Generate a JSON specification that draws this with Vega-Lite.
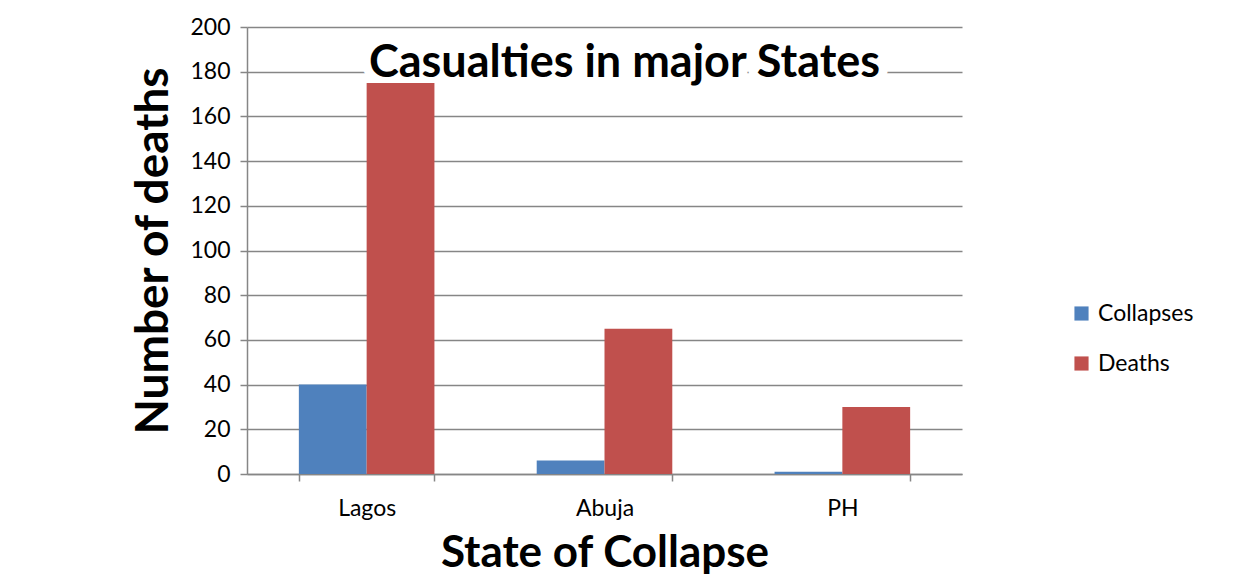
{
  "$schema": "https://vega.github.io/schema/vega-lite/v6.json",
  "autosize": {"type": "none"},
  "padding": {"left": 247, "top": 27, "right": 276, "bottom": 104},
  "width": 715,
  "height": 447,
  "background": "white",
  "config": {
    "view": {"stroke": null},
    "font": "Lato",
    "axisX": {
      "titleFont": "Lato",
      "titleFontSize": 44,
      "titleFontWeight": "bold",
      "titleColor": "black",
      "titlePadding": 11,
      "labelAngle": 0,
      "labelFont": "Lato",
      "labelFontSize": 23,
      "labelColor": "black",
      "labelPadding": 16,
      "tickBand": "extent",
      "tickSize": 7,
      "tickColor": "#868686",
      "tickWidth": 1.5,
      "domainColor": "#868686",
      "domainWidth": 1.5,
      "grid": false
    },
    "axisY": {
      "titleFont": "Lato",
      "titleFontSize": 46,
      "titleFontWeight": "bold",
      "titleColor": "black",
      "titlePadding": 12,
      "labelFont": "Lato",
      "labelFontSize": 23,
      "labelColor": "black",
      "labelPadding": 10,
      "tickSize": 7,
      "tickColor": "#868686",
      "tickWidth": 1.5,
      "domainColor": "#868686",
      "domainWidth": 1.5,
      "gridColor": "#868686",
      "gridWidth": 1.5
    }
  },
  "layer": [
    {
      "data": {"values": [{"state": "Abuja", "value": 177.6, "label": "Casualties in major States"}]},
      "mark": {
        "type": "text",
        "font": "Lato",
        "fontSize": 45,
        "fontWeight": "bold",
        "align": "center",
        "baseline": "alphabetic",
        "dx": 20,
        "fill": "white",
        "stroke": "white",
        "strokeWidth": 18,
        "strokeJoin": "round"
      },
      "encoding": {
        "x": {
          "field": "state",
          "type": "nominal",
          "sort": ["Lagos", "Abuja", "PH"],
          "scale": {"domain": ["Lagos", "Abuja", "PH"], "paddingInner": 0.43, "paddingOuter": 0.218},
          "axis": {"title": "State of Collapse"}
        },
        "y": {
          "field": "value",
          "type": "quantitative",
          "scale": {"domain": [0, 200], "nice": false},
          "axis": {"title": "Number of deaths", "values": [0, 20, 40, 60, 80, 100, 120, 140, 160, 180, 200]}
        },
        "text": {"field": "label", "type": "nominal"}
      }
    },
    {
      "data": {
        "values": [
          {"state": "Lagos", "series": "Collapses", "value": 40},
          {"state": "Lagos", "series": "Deaths", "value": 175},
          {"state": "Abuja", "series": "Collapses", "value": 6},
          {"state": "Abuja", "series": "Deaths", "value": 65},
          {"state": "PH", "series": "Collapses", "value": 1},
          {"state": "PH", "series": "Deaths", "value": 30}
        ]
      },
      "mark": {"type": "bar"},
      "encoding": {
        "x": {
          "field": "state",
          "type": "nominal",
          "sort": ["Lagos", "Abuja", "PH"],
          "scale": {"domain": ["Lagos", "Abuja", "PH"], "paddingInner": 0.43, "paddingOuter": 0.218},
          "axis": {"title": "State of Collapse"}
        },
        "y": {
          "field": "value",
          "type": "quantitative",
          "scale": {"domain": [0, 200], "nice": false},
          "axis": {"title": "Number of deaths", "values": [0, 20, 40, 60, 80, 100, 120, 140, 160, 180, 200]}
        },
        "xOffset": {"field": "series", "type": "nominal"},
        "color": {
          "field": "series",
          "type": "nominal",
          "scale": {"domain": ["Collapses", "Deaths"], "range": ["#4F81BD", "#C0504D"]},
          "legend": {
            "title": null,
            "orient": "none",
            "legendX": 823,
            "legendY": 275,
            "symbolType": "square",
            "symbolSize": 200,
            "symbolStrokeWidth": 0,
            "labelFont": "Lato",
            "labelFontSize": 23,
            "labelColor": "black",
            "labelOffset": 5,
            "rowPadding": 26
          }
        }
      }
    },
    {
      "data": {"values": [{"state": "Abuja", "value": 177.6, "label": "Casualties in major States"}]},
      "mark": {
        "type": "text",
        "font": "Lato",
        "fontSize": 45,
        "fontWeight": "bold",
        "align": "center",
        "baseline": "alphabetic",
        "dx": 20,
        "fill": "black"
      },
      "encoding": {
        "x": {
          "field": "state",
          "type": "nominal",
          "sort": ["Lagos", "Abuja", "PH"],
          "scale": {"domain": ["Lagos", "Abuja", "PH"], "paddingInner": 0.43, "paddingOuter": 0.218},
          "axis": {"title": "State of Collapse"}
        },
        "y": {
          "field": "value",
          "type": "quantitative",
          "scale": {"domain": [0, 200], "nice": false},
          "axis": {"title": "Number of deaths", "values": [0, 20, 40, 60, 80, 100, 120, 140, 160, 180, 200]}
        },
        "text": {"field": "label", "type": "nominal"}
      }
    }
  ]
}
